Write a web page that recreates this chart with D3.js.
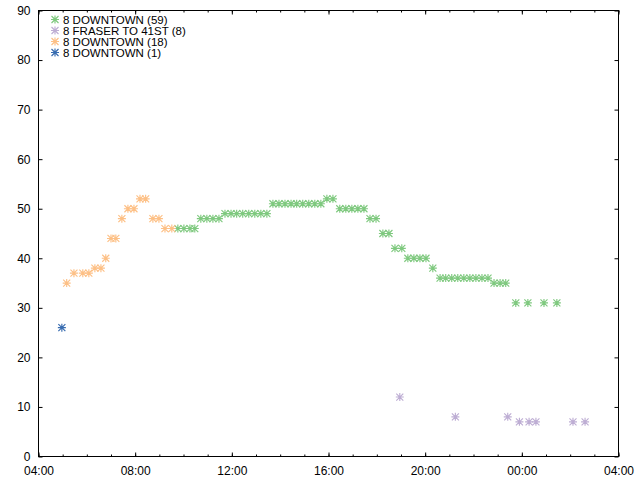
<!DOCTYPE html>
<html>
<head>
<meta charset="utf-8">
<script src="https://cdn.jsdelivr.net/npm/d3@7"></script>
<style>
html,body{margin:0;padding:0;background:#fff;}
svg{display:block;}
text{font-family:"Liberation Sans",Arial,sans-serif;font-size:12px;fill:#000;}
</style>
</head>
<body>
<script>
// ---------- data ----------
const seriesNames = ["8 DOWNTOWN (59)", "8 FRASER TO 41ST (8)", "8 DOWNTOWN (18)", "8 DOWNTOWN (1)"];
const seriesColors = ["#7fc97f", "#beaed4", "#fdc086", "#386cb0"];

const greenTimes = ["09:46","10:01","10:16","10:28","10:43","10:58","11:13","11:28","11:43","11:58","12:12","12:27","12:42","12:57","13:12","13:27","13:42","13:57","14:12","14:27","14:41","14:56","15:11","15:26","15:41","15:56","16:11","16:28","16:43","16:58","17:13","17:28","17:43","17:58","18:15","18:30","18:45","19:02","19:17","19:32","19:47","20:02","20:19","20:37","20:51","21:06","21:21","21:36","21:51","22:06","22:21","22:36","22:51","23:06","23:20","23:45","+00:15","+00:55","+01:27"];
const greenValues = [46,46,46,46,48,48,48,48,49,49,49,49,49,49,49,49,51,51,51,51,51,51,51,51,51,52,52,50,50,50,50,50,48,48,45,45,42,42,40,40,40,40,38,36,36,36,36,36,36,36,36,36,35,35,35,31,31,31,31];

const purpleTimes = ["18:57","21:15","23:25","23:54","+00:18","+00:35","+02:07","+02:37"];
const purpleValues = [12,8,8,7,7,7,7,7];

const orangeTimes = ["05:10","05:28","05:50","06:05","06:20","06:35","06:47","07:00","07:12","07:27","07:42","07:57","08:12","08:26","08:44","08:59","09:14","09:31"];
const orangeValues = [35,37,37,37,38,38,40,44,44,48,50,50,52,52,48,48,46,46];

const blueTimes = ["04:58"];
const blueValues = [26];

const yTicks = [0,10,20,30,40,50,60,70,80,90];
const xDomain = ["04:00", "+04:00"];

// ---------- helpers ----------
const parse = d3.utcParse("%Y-%m-%d %H:%M");
function toDate(s) {
  const next = s.startsWith("+");
  const t = next ? s.slice(1) : s;
  return parse((next ? "2020-01-02 " : "2020-01-01 ") + t);
}
const series = [
  {times: greenTimes, values: greenValues},
  {times: purpleTimes, values: purpleValues},
  {times: orangeTimes, values: orangeValues},
  {times: blueTimes, values: blueValues}
].map((s, i) => ({
  name: seriesNames[i], color: seriesColors[i],
  points: s.times.map((t, j) => ({t: toDate(t), v: s.values[j]}))
}));

// ---------- layout ----------
const W = 640, H = 480;
const m = {left: 38.5, right: 21.5, top: 10.5, bottom: 23.5};
const iw = W - m.left - m.right, ih = H - m.top - m.bottom;

const svg = d3.select("body").append("svg").attr("width", W).attr("height", H);
const g = svg.append("g").attr("transform", `translate(${m.left},${m.top})`);

const x = d3.scaleUtc().domain(xDomain.map(toDate)).range([0, iw]);
const y = d3.scaleLinear().domain([0, 90]).range([ih, 0]);

const majorX = d3.utcHour.every(4).range(x.domain()[0], new Date(+x.domain()[1] + 1));
const minorX = d3.utcHour.every(1).range(x.domain()[0], new Date(+x.domain()[1] + 1));
const fmt = d3.utcFormat("%H:%M");

// bottom axis (inward ticks)
const xb = g.append("g").attr("transform", `translate(0,${ih})`)
  .call(d3.axisBottom(x).tickValues(majorX).tickFormat(fmt).tickSize(-4).tickPadding(10));
xb.append("g").call(d3.axisBottom(x).tickValues(minorX).tickFormat("").tickSize(-2));
// top axis mirror
const xt = g.append("g")
  .call(d3.axisTop(x).tickValues(majorX).tickFormat("").tickSize(-4));
xt.append("g").call(d3.axisTop(x).tickValues(minorX).tickFormat("").tickSize(-2));
// left axis
const yl = g.append("g").call(d3.axisLeft(y).tickValues(yTicks).tickSize(-4).tickPadding(8));
// right axis mirror
const yr = g.append("g").attr("transform", `translate(${iw},0)`)
  .call(d3.axisRight(y).tickValues(yTicks).tickFormat("").tickSize(-4));

svg.selectAll(".domain").remove();
svg.selectAll(".tick line").attr("stroke", "#000");
svg.selectAll(".tick text").attr("font-family", "Liberation Sans, Arial, sans-serif").attr("font-size", 12).attr("fill", "#000");

// frame
g.append("rect").attr("x", 0).attr("y", 0).attr("width", iw).attr("height", ih)
  .attr("fill", "none").attr("stroke", "#000").attr("stroke-width", 1);

// asterisk marker
const r = 4, rd = 3.5;
const star = `M${-r},0H${r}M0,${-r}V${r}M${-rd},${-rd}L${rd},${rd}M${-rd},${rd}L${rd},${-rd}`;

series.forEach(s => {
  g.append("g").selectAll("path").data(s.points).join("path")
    .attr("d", star)
    .attr("transform", d => `translate(${x(d.t)},${y(d.v)})`)
    .attr("stroke", s.color).attr("stroke-width", 1.15).attr("fill", "none");
});

// legend
const lg = svg.append("g");
series.forEach((s, i) => {
  const yy = 19.5 + i * 11;
  lg.append("path").attr("d", star).attr("transform", `translate(55,${yy})`)
    .attr("stroke", s.color).attr("stroke-width", 1.15).attr("fill", "none");
  lg.append("text").attr("x", 63).attr("y", yy).attr("dy", "0.35em")
    .style("font-size", "11.5px").text(s.name);
});
</script>
</body>
</html>
